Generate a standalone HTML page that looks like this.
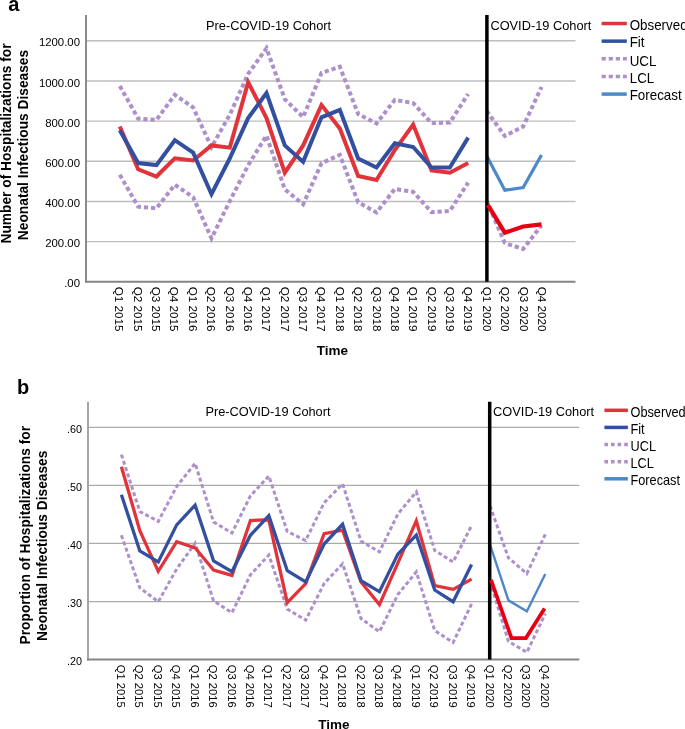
<!DOCTYPE html>
<html><head><meta charset="utf-8"><style>
html,body{margin:0;padding:0;background:#fff;}
svg{display:block;filter:blur(0.35px);font-family:"Liberation Sans", sans-serif;}
</style></head><body>
<svg width="685" height="729" viewBox="0 0 685 729">
<text x="8.3" y="10.8" font-size="20" font-weight="bold" fill="#000">a</text>
<line x1="86.0" y1="241.59" x2="575.5" y2="241.59" stroke="#bebebe" stroke-width="1.4"/>
<line x1="86.0" y1="201.43" x2="575.5" y2="201.43" stroke="#bebebe" stroke-width="1.4"/>
<line x1="86.0" y1="161.28" x2="575.5" y2="161.28" stroke="#bebebe" stroke-width="1.4"/>
<line x1="86.0" y1="121.12" x2="575.5" y2="121.12" stroke="#bebebe" stroke-width="1.4"/>
<line x1="86.0" y1="80.96" x2="575.5" y2="80.96" stroke="#bebebe" stroke-width="1.4"/>
<line x1="86.0" y1="40.80" x2="575.5" y2="40.80" stroke="#bebebe" stroke-width="1.4"/>
<line x1="86.0" y1="15.0" x2="86.0" y2="282.55" stroke="#8a8a8a" stroke-width="2"/>
<line x1="85.0" y1="281.75" x2="575.5" y2="281.75" stroke="#858585" stroke-width="2"/>
<polyline points="119.80,85.98 138.13,118.51 156.47,119.91 174.81,94.81 193.14,107.46 211.48,147.22 229.81,114.69 248.14,73.93 266.48,48.23 284.81,99.23 303.15,117.10 321.49,72.93 339.82,66.70 358.16,114.09 376.49,123.53 394.83,99.83 413.16,103.05 431.50,123.12 449.83,122.52 468.17,94.01" fill="none" stroke="#ad90cb" stroke-width="4.0" stroke-linejoin="miter" stroke-dasharray="4.2,2.9"/>
<polyline points="119.80,174.73 138.13,206.65 156.47,208.26 174.81,184.77 193.14,197.22 211.48,238.38 229.81,201.03 248.14,165.29 266.48,135.57 284.81,189.39 303.15,204.24 321.49,163.28 339.82,154.85 358.16,202.24 376.49,212.48 394.83,188.98 413.16,191.80 431.50,212.08 449.83,211.07 468.17,182.56" fill="none" stroke="#ad90cb" stroke-width="4.0" stroke-linejoin="miter" stroke-dasharray="4.2,2.9"/>
<polyline points="119.80,126.54 138.13,169.31 156.47,176.54 174.81,158.26 193.14,160.47 211.48,145.41 229.81,147.62 248.14,82.16 266.48,118.10 284.81,172.72 303.15,145.41 321.49,105.05 339.82,128.55 358.16,175.93 376.49,179.95 394.83,150.03 413.16,124.53 431.50,170.51 449.83,172.72 468.17,163.08" fill="none" stroke="#e0343a" stroke-width="4.0" stroke-linejoin="miter"/>
<polyline points="119.80,130.35 138.13,163.08 156.47,165.09 174.81,140.19 193.14,152.64 211.48,194.20 229.81,158.26 248.14,118.10 266.48,93.01 284.81,145.41 303.15,161.88 321.49,117.30 339.82,109.87 358.16,158.46 376.49,167.50 394.83,143.20 413.16,147.02 431.50,167.50 449.83,167.50 468.17,137.58" fill="none" stroke="#3350a0" stroke-width="4.0" stroke-linejoin="miter"/>
<polyline points="486.50,110.88 504.84,135.98 523.17,126.54 541.50,86.98" fill="none" stroke="#ad90cb" stroke-width="4.0" stroke-linejoin="miter" stroke-dasharray="4.2,2.9"/>
<polyline points="486.50,200.43 504.84,243.00 523.17,249.02 541.50,225.33" fill="none" stroke="#ad90cb" stroke-width="4.0" stroke-linejoin="miter" stroke-dasharray="4.2,2.9"/>
<polyline points="486.50,155.45 504.84,190.19 523.17,187.58 541.50,155.05" fill="none" stroke="#4d88c9" stroke-width="3.2" stroke-linejoin="miter"/>
<line x1="486.9" y1="15.0" x2="486.9" y2="281.75" stroke="#000" stroke-width="3.5"/>
<polyline points="487.80,204.85 504.90,232.76 523.20,226.53 541.50,224.32" fill="none" stroke="#e60012" stroke-width="4.2" stroke-linejoin="miter"/>
<text transform="translate(80.0,46.40) scale(0.965,1)" text-anchor="end" font-size="11.8" fill="#000">1200.00</text>
<text transform="translate(80.0,86.56) scale(0.965,1)" text-anchor="end" font-size="11.8" fill="#000">1000.00</text>
<text transform="translate(80.0,126.72) scale(0.965,1)" text-anchor="end" font-size="11.8" fill="#000">800.00</text>
<text transform="translate(80.0,166.88) scale(0.965,1)" text-anchor="end" font-size="11.8" fill="#000">600.00</text>
<text transform="translate(80.0,207.03) scale(0.965,1)" text-anchor="end" font-size="11.8" fill="#000">400.00</text>
<text transform="translate(80.0,247.19) scale(0.965,1)" text-anchor="end" font-size="11.8" fill="#000">200.00</text>
<text transform="translate(80.0,287.35) scale(0.965,1)" text-anchor="end" font-size="11.8" fill="#000">.00</text>
<text transform="translate(115.25,286.7) rotate(90)" font-size="11.7" fill="#000">Q1 2015</text>
<text transform="translate(133.63,286.7) rotate(90)" font-size="11.7" fill="#000">Q2 2015</text>
<text transform="translate(152.00,286.7) rotate(90)" font-size="11.7" fill="#000">Q3 2015</text>
<text transform="translate(170.38,286.7) rotate(90)" font-size="11.7" fill="#000">Q4 2015</text>
<text transform="translate(188.76,286.7) rotate(90)" font-size="11.7" fill="#000">Q1 2016</text>
<text transform="translate(207.14,286.7) rotate(90)" font-size="11.7" fill="#000">Q2 2016</text>
<text transform="translate(225.52,286.7) rotate(90)" font-size="11.7" fill="#000">Q3 2016</text>
<text transform="translate(243.89,286.7) rotate(90)" font-size="11.7" fill="#000">Q4 2016</text>
<text transform="translate(262.27,286.7) rotate(90)" font-size="11.7" fill="#000">Q1 2017</text>
<text transform="translate(280.65,286.7) rotate(90)" font-size="11.7" fill="#000">Q2 2017</text>
<text transform="translate(299.02,286.7) rotate(90)" font-size="11.7" fill="#000">Q3 2017</text>
<text transform="translate(317.40,286.7) rotate(90)" font-size="11.7" fill="#000">Q4 2017</text>
<text transform="translate(335.78,286.7) rotate(90)" font-size="11.7" fill="#000">Q1 2018</text>
<text transform="translate(354.16,286.7) rotate(90)" font-size="11.7" fill="#000">Q2 2018</text>
<text transform="translate(372.54,286.7) rotate(90)" font-size="11.7" fill="#000">Q3 2018</text>
<text transform="translate(390.91,286.7) rotate(90)" font-size="11.7" fill="#000">Q4 2018</text>
<text transform="translate(409.29,286.7) rotate(90)" font-size="11.7" fill="#000">Q1 2019</text>
<text transform="translate(427.67,286.7) rotate(90)" font-size="11.7" fill="#000">Q2 2019</text>
<text transform="translate(446.05,286.7) rotate(90)" font-size="11.7" fill="#000">Q3 2019</text>
<text transform="translate(464.42,286.7) rotate(90)" font-size="11.7" fill="#000">Q4 2019</text>
<text transform="translate(482.80,286.7) rotate(90)" font-size="11.7" fill="#000">Q1 2020</text>
<text transform="translate(501.18,286.7) rotate(90)" font-size="11.7" fill="#000">Q2 2020</text>
<text transform="translate(519.56,286.7) rotate(90)" font-size="11.7" fill="#000">Q3 2020</text>
<text transform="translate(537.93,286.7) rotate(90)" font-size="11.7" fill="#000">Q4 2020</text>
<text x="206.0" y="29.5" font-size="12.8" fill="#000">Pre-COVID-19 Cohort</text>
<text x="490.4" y="29.5" font-size="12.8" fill="#000">COVID-19 Cohort</text>
<text x="332.45" y="354.7" text-anchor="middle" font-size="13.5" font-weight="bold" fill="#000">Time</text>
<text transform="translate(11.4,143.45) rotate(-90)" text-anchor="middle" font-size="13.75" font-weight="bold" fill="#000">Number of Hospitalizations for</text>
<text transform="translate(28.0,145.0) rotate(-90)" text-anchor="middle" font-size="13.75" font-weight="bold" fill="#000">Neonatal Infectious Diseases</text>
<line x1="601.6" y1="23.5" x2="626.8" y2="23.5" stroke="#e0343a" stroke-width="3.5"/>
<text transform="translate(629.7,29.9) scale(0.955,1)" font-size="14" fill="#000">Observed</text>
<line x1="601.6" y1="41.15" x2="626.8" y2="41.15" stroke="#3350a0" stroke-width="3.5"/>
<text transform="translate(629.7,47.3) scale(0.955,1)" font-size="14" fill="#000">Fit</text>
<line x1="601.6" y1="58.8" x2="626.8" y2="58.8" stroke="#ad90cb" stroke-width="3.5" stroke-dasharray="4.2,2.9"/>
<text transform="translate(629.7,66.0) scale(0.955,1)" font-size="14" fill="#000">UCL</text>
<line x1="601.6" y1="76.45" x2="626.8" y2="76.45" stroke="#ad90cb" stroke-width="3.5" stroke-dasharray="4.2,2.9"/>
<text transform="translate(629.7,82.8) scale(0.955,1)" font-size="14" fill="#000">LCL</text>
<line x1="601.6" y1="94.1" x2="626.8" y2="94.1" stroke="#4d88c9" stroke-width="3.5"/>
<text transform="translate(629.7,100.0) scale(0.955,1)" font-size="14" fill="#000">Forecast</text>
<text x="17.1" y="393.65" font-size="20" font-weight="bold" fill="#000">b</text>
<line x1="88.0" y1="601.53" x2="579.2" y2="601.53" stroke="#ababab" stroke-width="1.2"/>
<line x1="88.0" y1="543.45" x2="579.2" y2="543.45" stroke="#ababab" stroke-width="1.2"/>
<line x1="88.0" y1="485.38" x2="579.2" y2="485.38" stroke="#ababab" stroke-width="1.2"/>
<line x1="88.0" y1="427.30" x2="579.2" y2="427.30" stroke="#ababab" stroke-width="1.2"/>
<line x1="88.0" y1="401.7" x2="88.0" y2="660.40" stroke="#a4a4a4" stroke-width="2"/>
<line x1="87.0" y1="659.60" x2="579.2" y2="659.60" stroke="#858585" stroke-width="2"/>
<polyline points="121.40,454.60 139.83,511.51 158.26,521.38 176.69,486.54 195.12,463.31 213.55,521.96 231.98,533.00 250.41,495.83 268.84,476.08 287.27,531.49 305.70,540.55 324.13,502.80 342.56,483.87 360.99,541.13 379.42,551.87 397.85,514.01 416.28,491.88 434.71,550.42 453.14,562.03 471.57,525.62" fill="none" stroke="#ad90cb" stroke-width="3.0" stroke-linejoin="miter" stroke-dasharray="4,2.6"/>
<polyline points="121.40,535.32 139.83,587.82 158.26,601.76 176.69,569.00 195.12,543.22 213.55,600.94 231.98,612.73 250.41,574.81 268.84,555.07 287.27,609.07 305.70,620.11 324.13,583.52 342.56,563.78 360.99,618.54 379.42,631.72 397.85,594.56 416.28,571.91 434.71,630.56 453.14,642.47 471.57,603.96" fill="none" stroke="#ad90cb" stroke-width="3.0" stroke-linejoin="miter" stroke-dasharray="4,2.6"/>
<polyline points="121.40,466.79 139.83,530.67 158.26,571.33 176.69,541.71 195.12,547.81 213.55,570.16 231.98,575.39 250.41,520.51 268.84,519.81 287.27,602.69 305.70,583.52 324.13,533.69 342.56,530.09 360.99,582.01 379.42,604.66 397.85,563.20 416.28,520.80 434.71,585.67 453.14,589.33 471.57,579.11" fill="none" stroke="#e0343a" stroke-width="3.3" stroke-linejoin="miter"/>
<polyline points="121.40,494.67 139.83,551.00 158.26,562.03 176.69,524.87 195.12,505.12 213.55,560.87 231.98,571.62 250.41,535.32 268.84,515.57 287.27,570.75 305.70,582.01 324.13,544.03 342.56,524.29 360.99,580.62 379.42,591.65 397.85,554.14 416.28,535.09 434.71,590.03 453.14,601.76 471.57,564.53" fill="none" stroke="#3350a0" stroke-width="3.3" stroke-linejoin="miter"/>
<polyline points="490.00,505.88 508.43,557.79 526.86,573.65 545.29,534.39" fill="none" stroke="#ad90cb" stroke-width="3.0" stroke-linejoin="miter" stroke-dasharray="4,2.6"/>
<polyline points="490.00,581.20 508.43,641.31 526.86,652.34 545.29,613.72" fill="none" stroke="#ad90cb" stroke-width="3.0" stroke-linejoin="miter" stroke-dasharray="4,2.6"/>
<polyline points="490.00,544.61 508.43,600.36 526.86,611.28 545.29,574.06" fill="none" stroke="#4d88c9" stroke-width="2.4" stroke-linejoin="miter"/>
<line x1="489.7" y1="401.7" x2="489.7" y2="659.60" stroke="#000" stroke-width="3.5"/>
<polyline points="491.00,579.86 511.50,638.11 525.90,638.11 544.60,608.61" fill="none" stroke="#e60012" stroke-width="3.7" stroke-linejoin="miter"/>
<text transform="translate(82.0,432.90) scale(0.93,1)" text-anchor="end" font-size="11.6" fill="#000">.60</text>
<text transform="translate(82.0,490.98) scale(0.93,1)" text-anchor="end" font-size="11.6" fill="#000">.50</text>
<text transform="translate(82.0,549.05) scale(0.93,1)" text-anchor="end" font-size="11.6" fill="#000">.40</text>
<text transform="translate(82.0,607.13) scale(0.93,1)" text-anchor="end" font-size="11.6" fill="#000">.30</text>
<text transform="translate(82.0,665.20) scale(0.93,1)" text-anchor="end" font-size="11.6" fill="#000">.20</text>
<text transform="translate(117.00,664.7) rotate(90)" font-size="11.2" fill="#000">Q1 2015</text>
<text transform="translate(135.43,664.7) rotate(90)" font-size="11.2" fill="#000">Q2 2015</text>
<text transform="translate(153.86,664.7) rotate(90)" font-size="11.2" fill="#000">Q3 2015</text>
<text transform="translate(172.29,664.7) rotate(90)" font-size="11.2" fill="#000">Q4 2015</text>
<text transform="translate(190.72,664.7) rotate(90)" font-size="11.2" fill="#000">Q1 2016</text>
<text transform="translate(209.15,664.7) rotate(90)" font-size="11.2" fill="#000">Q2 2016</text>
<text transform="translate(227.58,664.7) rotate(90)" font-size="11.2" fill="#000">Q3 2016</text>
<text transform="translate(246.01,664.7) rotate(90)" font-size="11.2" fill="#000">Q4 2016</text>
<text transform="translate(264.44,664.7) rotate(90)" font-size="11.2" fill="#000">Q1 2017</text>
<text transform="translate(282.87,664.7) rotate(90)" font-size="11.2" fill="#000">Q2 2017</text>
<text transform="translate(301.30,664.7) rotate(90)" font-size="11.2" fill="#000">Q3 2017</text>
<text transform="translate(319.73,664.7) rotate(90)" font-size="11.2" fill="#000">Q4 2017</text>
<text transform="translate(338.16,664.7) rotate(90)" font-size="11.2" fill="#000">Q1 2018</text>
<text transform="translate(356.59,664.7) rotate(90)" font-size="11.2" fill="#000">Q2 2018</text>
<text transform="translate(375.02,664.7) rotate(90)" font-size="11.2" fill="#000">Q3 2018</text>
<text transform="translate(393.45,664.7) rotate(90)" font-size="11.2" fill="#000">Q4 2018</text>
<text transform="translate(411.88,664.7) rotate(90)" font-size="11.2" fill="#000">Q1 2019</text>
<text transform="translate(430.31,664.7) rotate(90)" font-size="11.2" fill="#000">Q2 2019</text>
<text transform="translate(448.74,664.7) rotate(90)" font-size="11.2" fill="#000">Q3 2019</text>
<text transform="translate(467.17,664.7) rotate(90)" font-size="11.2" fill="#000">Q4 2019</text>
<text transform="translate(485.60,664.7) rotate(90)" font-size="11.2" fill="#000">Q1 2020</text>
<text transform="translate(504.03,664.7) rotate(90)" font-size="11.2" fill="#000">Q2 2020</text>
<text transform="translate(522.46,664.7) rotate(90)" font-size="11.2" fill="#000">Q3 2020</text>
<text transform="translate(540.89,664.7) rotate(90)" font-size="11.2" fill="#000">Q4 2020</text>
<text x="205.4" y="415.8" font-size="12.8" fill="#000">Pre-COVID-19 Cohort</text>
<text x="493.1" y="415.8" font-size="12.8" fill="#000">COVID-19 Cohort</text>
<text x="333.9" y="728.7" text-anchor="middle" font-size="13.5" font-weight="bold" fill="#000">Time</text>
<text transform="translate(30.2,535.2) rotate(-90)" text-anchor="middle" font-size="13.75" font-weight="bold" fill="#000">Proportion of Hospitalizations for</text>
<text transform="translate(46.8,545.75) rotate(-90)" text-anchor="middle" font-size="13.75" font-weight="bold" fill="#000">Neonatal Infectious Diseases</text>
<line x1="604.4" y1="410.3" x2="627.9" y2="410.3" stroke="#e0343a" stroke-width="3.5"/>
<text transform="translate(630.5,416.6) scale(0.91,1)" font-size="14" fill="#000">Observed</text>
<line x1="604.4" y1="427.4" x2="627.9" y2="427.4" stroke="#3350a0" stroke-width="3.5"/>
<text transform="translate(630.5,433.7) scale(0.91,1)" font-size="14" fill="#000">Fit</text>
<line x1="604.4" y1="444.6" x2="627.9" y2="444.6" stroke="#ad90cb" stroke-width="3.5" stroke-dasharray="3.6,3"/>
<text transform="translate(630.5,450.9) scale(0.91,1)" font-size="14" fill="#000">UCL</text>
<line x1="604.4" y1="461.7" x2="627.9" y2="461.7" stroke="#ad90cb" stroke-width="3.5" stroke-dasharray="3.6,3"/>
<text transform="translate(630.5,468.0) scale(0.91,1)" font-size="14" fill="#000">LCL</text>
<line x1="604.4" y1="478.8" x2="627.9" y2="478.8" stroke="#4d88c9" stroke-width="3.5"/>
<text transform="translate(630.5,485.1) scale(0.91,1)" font-size="14" fill="#000">Forecast</text>
</svg>
</body></html>
